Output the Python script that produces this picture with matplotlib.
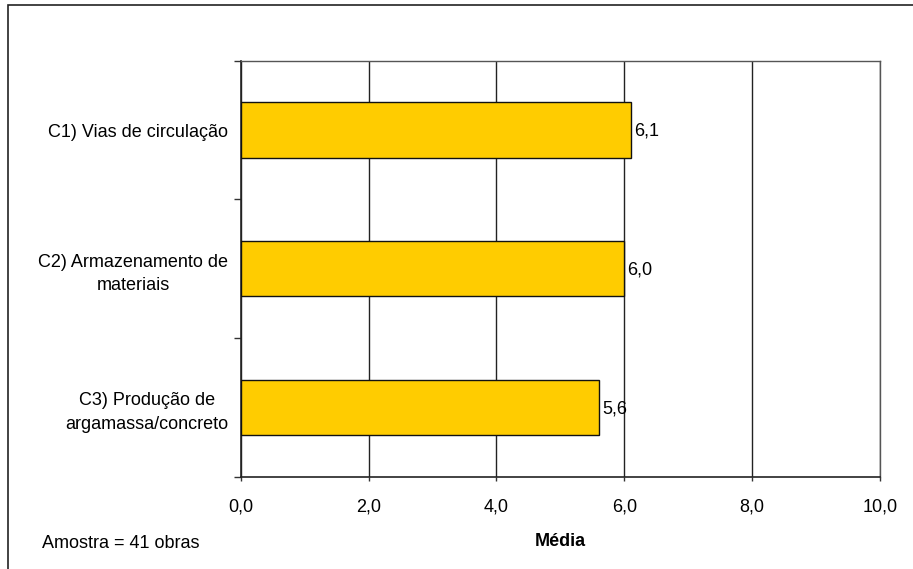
import numpy as np
import matplotlib
matplotlib.use("Agg")
import matplotlib.pyplot as plt
from matplotlib.patches import Rectangle

plt.rcParams['font.family'] = ['Liberation Sans', 'DejaVu Sans']

categorias = ['C1) Vias de circulação',
              'C2) Armazenamento de\nmateriais',
              'C3) Produção de\nargamassa/concreto']
medias = [6.1, 6.0, 5.6]
ticks_x = [0, 2, 4, 6, 8, 10]

FS = 13

fig = plt.figure(figsize=(9.13, 5.69), dpi=100)
ax = fig.add_axes([0.2636, 0.1622, 0.7003, 0.7311])

# moldura externa do gráfico
fig.patches.append(Rectangle((8 / 913, -0.01), 1.0, 1 - 4.5 / 569 + 0.01,
                             transform=fig.transFigure, fill=False,
                             edgecolor='#222222', linewidth=1.2))

y = np.arange(len(categorias))
ax.barh(y, medias, height=0.40, color='#FFCC00', edgecolor='#111111',
        linewidth=1.0, zorder=3)

for yi, v in zip(y, medias):
    ax.text(v + 0.05, yi + 0.01, '{:.1f}'.format(v).replace('.', ','),
            va='center', ha='left', fontsize=FS, zorder=4)

ax.set_xlim(0, 10)
ax.set_ylim(len(categorias) - 0.5, -0.5)

ax.set_xticks(ticks_x)
ax.set_xticklabels(['{:.1f}'.format(t).replace('.', ',') for t in ticks_x],
                   fontsize=FS)
ax.tick_params(axis='x', length=3, width=1, color='#333333', pad=13)

# rótulos das categorias no centro, marcas nos limites
ax.set_yticks(y)
ax.set_yticklabels(categorias, fontsize=FS, multialignment='center',
                   linespacing=1.5)
ax.tick_params(axis='y', which='major', length=0, pad=9)
ax.set_yticks(np.arange(-0.5, len(categorias)), minor=True)
ax.tick_params(axis='y', which='minor', length=5, width=1, color='#333333')

ax.grid(True, axis='x', color='#222222', linewidth=1.0, zorder=0)
ax.set_axisbelow(True)

for s in ['top', 'right']:
    ax.spines[s].set_color('#555555')
    ax.spines[s].set_linewidth(1.0)
for s in ['left', 'bottom']:
    ax.spines[s].set_color('#222222')
    ax.spines[s].set_linewidth(1.2)

ax.set_xlabel('Média', fontsize=FS, fontweight='bold', labelpad=12)
fig.text(42 / 913, 1 - 544 / 569, 'Amostra = 41 obras', fontsize=FS,
         va='center', ha='left')

fig.savefig('out.png', dpi=100)
